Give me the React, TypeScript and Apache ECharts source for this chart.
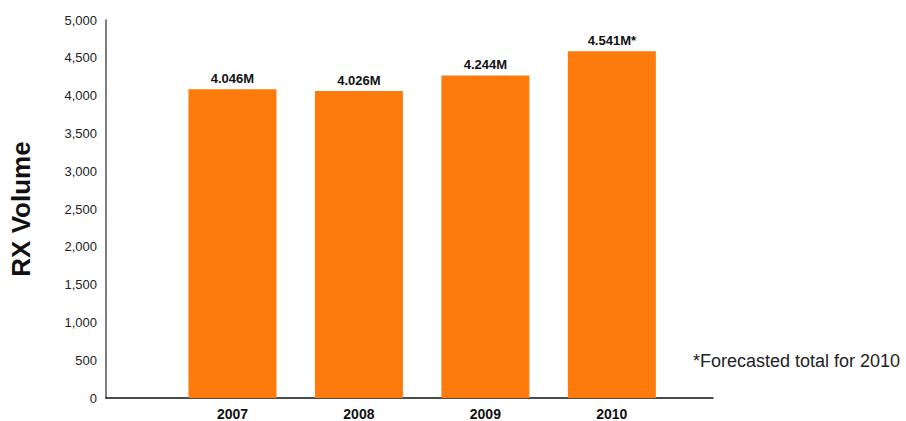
import React, { useEffect, useRef } from "react";
import * as echarts from "echarts";

const years = ["2007", "2008", "2009", "2010"];
const barValues = [4084, 4061, 4267, 4585];
const barLabels = ["4.046M", "4.026M", "4.244M", "4.541M*"];
const yTicks = [0, 500, 1000, 1500, 2000, 2500, 3000, 3500, 4000, 4500, 5000];
const footnote = "*Forecasted total for 2010";

export default function App() {
  const ref = useRef<HTMLDivElement>(null);
  useEffect(() => {
    if (!ref.current) return;
    const chart = echarts.init(ref.current, null, { renderer: "svg" });
    const font = "'Liberation Sans', Arial, Helvetica, sans-serif";
    chart.setOption({
      animation: false,
      backgroundColor: "#ffffff",
      grid: { left: 105, top: 20, right: 193, bottom: 19, containLabel: false },
      xAxis: {
        type: "value",
        min: 0,
        max: 4.8,
        interval: 1,
        axisLine: { show: true, lineStyle: { color: "#111", width: 1.5 } },
        axisTick: { show: false },
        splitLine: { show: false },
        axisLabel: {
          showMaxLabel: false,
          formatter: (v: number) => years[Math.round(v) - 1] ?? "",
          color: "#111",
          fontFamily: font,
          fontWeight: "bold",
          fontSize: 14,
          margin: 9,
        },
      },
      yAxis: {
        type: "value",
        min: yTicks[0],
        max: yTicks[yTicks.length - 1],
        interval: yTicks[1] - yTicks[0],
        name: "RX Volume",
        nameLocation: "middle",
        nameRotate: 90,
        nameGap: 72,
        nameTextStyle: {
          fontFamily: font,
          fontWeight: "bold",
          fontSize: 26,
          color: "#111",
        },
        axisLine: { show: true, lineStyle: { color: "#555", width: 1.5 } },
        axisTick: { show: false },
        splitLine: { show: false },
        axisLabel: {
          formatter: (v: number) => v.toLocaleString("en-US"),
          color: "#222",
          fontFamily: font,
          fontSize: 13,
          margin: 9,
        },
      },
      series: [
        {
          type: "bar",
          barWidth: 88,
          data: barValues.map((v, i) => [i + 1, v]),
          itemStyle: { color: "#FD7A0C" },
          label: {
            show: true,
            position: "top",
            distance: 4,
            formatter: (p: any) => barLabels[p.dataIndex],
            color: "#111",
            fontFamily: font,
            fontWeight: "bold",
            fontSize: 13,
          },
        },
      ],
      graphic: [
        {
          type: "text",
          left: 693,
          top: 352,
          style: {
            text: footnote,
            fill: "#222",
            font: `18px ${font}`,
          },
        },
      ],
    });
    return () => chart.dispose();
  }, []);
  return <div ref={ref} style={{ width: 906, height: 421, position: "absolute", left: 0, top: 0 }} />;
}
